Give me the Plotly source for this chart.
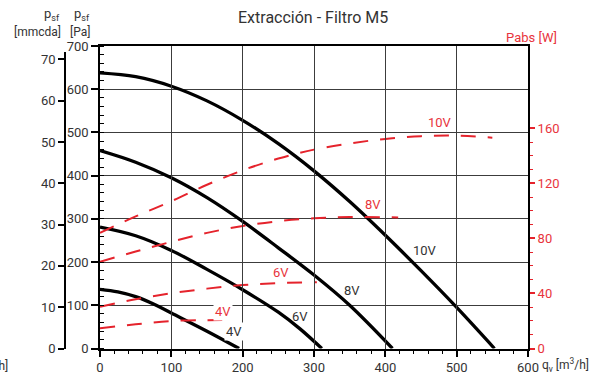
import plotly.graph_objects as go

# ---- data ----
# static pressure curves [Pa] vs airflow qv [m3/h]
qv_p10 = [0, 50, 100, 150, 200, 250, 300, 350, 400, 450, 500, 553]
p_10 = [638, 629, 607, 573, 528, 474, 411, 340, 262, 180, 95, 0]
qv_p8 = [0, 50, 100, 150, 200, 250, 300, 350, 410]
p_8 = [458, 431, 395, 349, 294, 233, 170, 100, 0]
qv_p6 = [0, 50, 100, 150, 200, 250, 280, 311]
p_6 = [281, 261, 227, 183, 136, 84, 46, 0]
qv_p4 = [0, 25, 50, 75, 100, 150, 195]
p_4 = [137, 131, 120, 103, 82, 40, 0]

# absorbed power curves [W] vs airflow
qv_w10 = [0, 50, 100, 150, 200, 250, 300, 350, 400, 450, 500, 550]
w_10 = [84, 96, 107, 119, 129.5, 138, 144.5, 149, 152.3, 154.3, 154.7, 153.2]
qv_w8 = [0, 50, 100, 150, 200, 250, 300, 350, 418]
w_8 = [63, 70.5, 77.5, 84, 89, 92.5, 94.6, 95.5, 95.2]
qv_w6 = [0, 50, 100, 150, 200, 250, 304]
w_6 = [30.4, 35.8, 40.1, 43.5, 46.1, 47.5, 48.1]
qv_w4 = [0, 50, 100, 150, 182]
w_4 = [14.7, 17.6, 20, 20.6, 20.8]

speed_labels = ["10V", "8V", "6V", "4V"]
x_ticks = [0, 100, 200, 300, 400, 500, 600]
pa_ticks = [0, 100, 200, 300, 400, 500, 600, 700]
mm_ticks = [0, 10, 20, 30, 40, 50, 60, 70]
w_ticks = [0, 40, 80, 120, 160]
w_minor = [10, 20, 30, 50, 60, 70, 90, 100, 110, 130, 140, 150]

# label anchor positions (data coords)
p_lab_x = [455.6, 353, 280.4, 187.9]
p_lab_y = [227, 135, 73.3, 38.7]
w_lab_x = [476.7, 383, 253.3, 172.4]
w_lab_y = [163.9, 104.3, 55.1, 26.7]

RED = "#e5232c"
RED_T = "#e8343c"
TXT = "#333333"
FONT = "Roboto"
W, H = 602, 376


def px(xp):
    return xp / W


def py(yp):
    return (H - yp) / H


fig = go.Figure()

for xs, ys in [(qv_p10, p_10), (qv_p8, p_8), (qv_p6, p_6), (qv_p4, p_4)]:
    fig.add_trace(go.Scatter(x=xs, y=ys, mode="lines", yaxis="y",
                             line=dict(color="black", width=3.3, shape="spline", smoothing=1),
                             hoverinfo="skip", showlegend=False))

for xs, ys in [(qv_w10, w_10), (qv_w8, w_8), (qv_w6, w_6), (qv_w4, w_4)]:
    fig.add_trace(go.Scatter(x=xs, y=ys, mode="lines", yaxis="y2",
                             line=dict(color=RED, width=2, dash="15px,12px", shape="spline", smoothing=1),
                             hoverinfo="skip", showlegend=False))

# dummy trace for the mmcda axis
fig.add_trace(go.Scatter(x=[0], y=[0], yaxis="y3", mode="markers",
                         marker=dict(opacity=0), hoverinfo="skip", showlegend=False))

y_bot = py(348.5)
y_top = py(46)

fig.update_layout(
    width=W, height=H,
    margin=dict(l=0, r=0, t=0, b=0, autoexpand=False),
    paper_bgcolor="white", plot_bgcolor="rgba(0,0,0,0)",
    font=dict(family=FONT, size=13, color=TXT),
    showlegend=False,
    xaxis=dict(domain=[px(100), px(528)], range=[0, 600], tickvals=x_ticks,
               ticks="outside", ticklen=6, tickwidth=1.5, tickcolor="black",
               showline=True, linecolor="black", linewidth=2, mirror=True,
               showgrid=True, gridcolor="#3c3c3c", gridwidth=1, zeroline=False,
               tickfont=dict(size=13, color=TXT), automargin=False,
               minor=dict(ticks="outside", ticklen=3, tickwidth=1, tickcolor="black",
                          tick0=0, dtick=20, showgrid=False),
               anchor="y", fixedrange=True),
    yaxis=dict(domain=[y_bot, y_top], range=[0, 700], tickvals=pa_ticks,
               ticks="outside", ticklen=7, tickwidth=1.5, tickcolor="black",
               showline=True, linecolor="black", linewidth=1.5,
               showgrid=True, gridcolor="#3c3c3c", gridwidth=1, zeroline=False,
               tickfont=dict(size=13, color=TXT), automargin=False,
               minor=dict(ticks="inside", ticklen=4, tickwidth=1, tickcolor="black",
                          tick0=0, dtick=20, showgrid=False),
               anchor="x", fixedrange=True),
    yaxis2=dict(overlaying="y", side="right", anchor="x", range=[0, 219.8],
                tickvals=w_ticks, ticks="outside", ticklen=5, tickwidth=1.5, tickcolor=RED,
                showline=True, linecolor="black", linewidth=2,
                showgrid=False, zeroline=False, automargin=False,
                tickfont=dict(size=13, color=RED_T),
                minor=dict(ticks="outside", ticklen=3, tickwidth=1, tickcolor=RED,
                           tickmode="array", tickvals=w_minor, showgrid=False),
                fixedrange=True),
    yaxis3=dict(anchor="free", position=px(65), side="left",
                domain=[y_bot, py(52)], range=[0, 71.8], tickvals=mm_ticks,
                ticks="outside", ticklen=6, tickwidth=1.5, tickcolor="black",
                showline=True, linecolor="black", linewidth=1.5,
                showgrid=False, zeroline=False, automargin=False,
                tickfont=dict(size=13, color=TXT), fixedrange=True),
)

ann = []
# title
ann.append(dict(text="Extracción - Filtro M5", x=px(313), y=py(18), xref="paper", yref="paper",
                showarrow=False, font=dict(size=16, color=TXT), xanchor="center", yanchor="middle"))
# axis header labels
ann.append(dict(text="p<sub>sf</sub>", x=px(62), y=py(15), xref="paper", yref="paper",
                showarrow=False, font=dict(size=13, color=TXT), xanchor="right", yanchor="middle"))
ann.append(dict(text="p<sub>sf</sub>", x=px(92), y=py(15), xref="paper", yref="paper",
                showarrow=False, font=dict(size=13, color=TXT), xanchor="right", yanchor="middle"))
ann.append(dict(text="[mmcda]", x=px(63), y=py(32), xref="paper", yref="paper",
                showarrow=False, font=dict(size=12, color=TXT), xanchor="right", yanchor="middle"))
ann.append(dict(text="[Pa]", x=px(92), y=py(32), xref="paper", yref="paper",
                showarrow=False, font=dict(size=12, color=TXT), xanchor="right", yanchor="middle"))
ann.append(dict(text="Pabs [W]", x=px(559), y=py(37), xref="paper", yref="paper",
                showarrow=False, font=dict(size=13, color=RED_T), xanchor="right", yanchor="middle"))
ann.append(dict(text="q<sub>v</sub> [m<sup>3</sup>/h]", x=px(540), y=py(365), xref="paper", yref="paper",
                showarrow=False, font=dict(size=12, color=TXT), xanchor="left", yanchor="middle"))
ann.append(dict(text="[m<sup>3</sup>/h]", x=px(10), y=py(365), xref="paper", yref="paper",
                showarrow=False, font=dict(size=12, color=TXT), xanchor="right", yanchor="middle"))

for i, lab in enumerate(speed_labels):
    bg = "white" if lab == "4V" else None
    d = dict(text=lab, x=p_lab_x[i], y=p_lab_y[i], xref="x", yref="y", showarrow=False,
             font=dict(size=13, color=TXT), xanchor="center", yanchor="middle")
    if bg:
        d["bgcolor"] = bg
        d["borderpad"] = 1
    ann.append(d)
    d2 = dict(text=lab, x=w_lab_x[i], y=w_lab_y[i], xref="x", yref="y2", showarrow=False,
              font=dict(size=13, color=RED_T), xanchor="center", yanchor="middle")
    if bg:
        d2["bgcolor"] = bg
        d2["borderpad"] = 1
    ann.append(d2)

fig.update_layout(annotations=ann)

fig.write_html("out.html", config={"displayModeBar": False},
               post_script="document.body.style.margin='0';document.body.style.overflow='hidden';")
